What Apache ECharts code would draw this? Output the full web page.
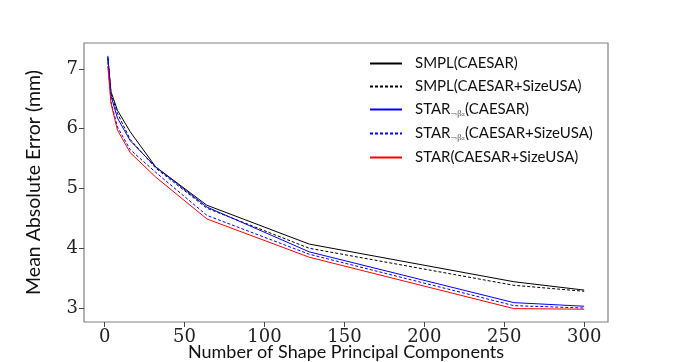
<!DOCTYPE html>
<html>
<head>
<meta charset="utf-8">
<script src="https://cdn.jsdelivr.net/npm/echarts@6/dist/echarts.min.js"></script>
<style>
  html, body { margin: 0; padding: 0; background: #fff; }
  #chart { width: 676px; height: 362px; }
</style>
</head>
<body>
<div id="chart"></div>
<script>
// number of shape principal components
var components = [2, 4, 8, 16, 32, 64, 128, 256, 300];
// mean absolute error (mm)
var smplCaesar = [7.20, 6.62, 6.31, 5.95, 5.36, 4.72, 4.07, 3.44, 3.30];
var smplCaesarSize = [7.18, 6.58, 6.26, 5.82, 5.34, 4.67, 4.00, 3.38, 3.28];
var starNbCaesar = [7.22, 6.55, 6.18, 5.80, 5.36, 4.69, 3.94, 3.09, 3.03];
var starNbCaesarSize = [7.12, 6.45, 6.03, 5.65, 5.27, 4.55, 3.90, 3.04, 3.00];
var starCaesarSize = [7.05, 6.42, 5.98, 5.60, 5.19, 4.49, 3.85, 2.99, 2.98];
var xTicks = [0, 50, 100, 150, 200, 250, 300];
var yTicks = [3, 4, 5, 6, 7];

var pairs = function (ys) {
    return components.map(function (x, i) { return [x, ys[i]]; });
};

var mkSeries = function (name, ys, color, dashed) {
    return {
        name: name,
        type: 'line',
        data: pairs(ys),
        symbol: 'none',
        silent: true,
        lineStyle: { color: color, width: 1, type: dashed ? [3, 2] : 'solid' },
        itemStyle: { color: color }
    };
};

var myChart = echarts.init(document.getElementById('chart'));
myChart.setOption({
    animation: false,
    grid: {
        left: 84, right: 68, top: 43, bottom: 40,
        outerBoundsMode: 'none',
        containLabel: false,
        show: true, borderColor: '#808080', borderWidth: 1.2
    },
    legend: {
        orient: 'vertical',
        left: 364,
        top: 51,
        itemWidth: 32,
        itemHeight: 12,
        itemGap: 8,
        itemStyle: { opacity: 0 },
        textStyle: {
            fontFamily: 'Lato',
            fontSize: 15,
            color: '#111',
            padding: [0, 0, 0, 8],
            rich: {
                sub: { fontSize: 8, fontFamily: 'DejaVu Serif', padding: [9, 0, 0, 0], color: '#555' }
            }
        },
        formatter: function (name) {
            if (name === 'STAR_nb(CAESAR)') return 'STAR{sub|¬β₂}(CAESAR)';
            if (name === 'STAR_nb(CAESAR+SizeUSA)') return 'STAR{sub|¬β₂}(CAESAR+SizeUSA)';
            return name;
        }
    },
    xAxis: {
        type: 'value',
        min: -12.9,
        max: 314.9,
        name: 'Number of Shape Principal Components',
        nameLocation: 'middle',
        nameGap: 21,
        nameMoveOverlap: false,
        nameTextStyle: { fontFamily: 'Lato', fontSize: 18, color: '#111' },
        splitLine: { show: false },
        axisLine: { show: false, onZero: false },
        axisTick: { show: true, customValues: xTicks, length: 5, lineStyle: { color: '#444' } },
        axisLabel: {
            customValues: xTicks,
            fontFamily: 'DejaVu Serif',
            fontSize: 18,
            color: '#222',
            margin: 6
        }
    },
    yAxis: {
        type: 'value',
        min: 2.766,
        max: 7.435,
        name: 'Mean Absolute Error (mm)',
        nameLocation: 'middle',
        nameRotate: 90,
        nameGap: 40,
        nameMoveOverlap: false,
        nameTextStyle: { fontFamily: 'Lato', fontSize: 19.5, color: '#111' },
        splitLine: { show: false },
        axisLine: { show: false, onZero: false },
        axisTick: { show: true, customValues: yTicks, length: 5, lineStyle: { color: '#444' } },
        axisLabel: {
            customValues: yTicks,
            fontFamily: 'DejaVu Serif',
            fontSize: 18,
            color: '#222',
            margin: 6
        }
    },
    series: [
        mkSeries('SMPL(CAESAR)', smplCaesar, '#000000', false),
        mkSeries('SMPL(CAESAR+SizeUSA)', smplCaesarSize, '#000000', true),
        mkSeries('STAR_nb(CAESAR)', starNbCaesar, '#0000ff', false),
        mkSeries('STAR_nb(CAESAR+SizeUSA)', starNbCaesarSize, '#0000ff', true),
        mkSeries('STAR(CAESAR+SizeUSA)', starCaesarSize, '#ff0000', false)
    ]
});
window.onresize = myChart.resize;
</script>
</body>
</html>
